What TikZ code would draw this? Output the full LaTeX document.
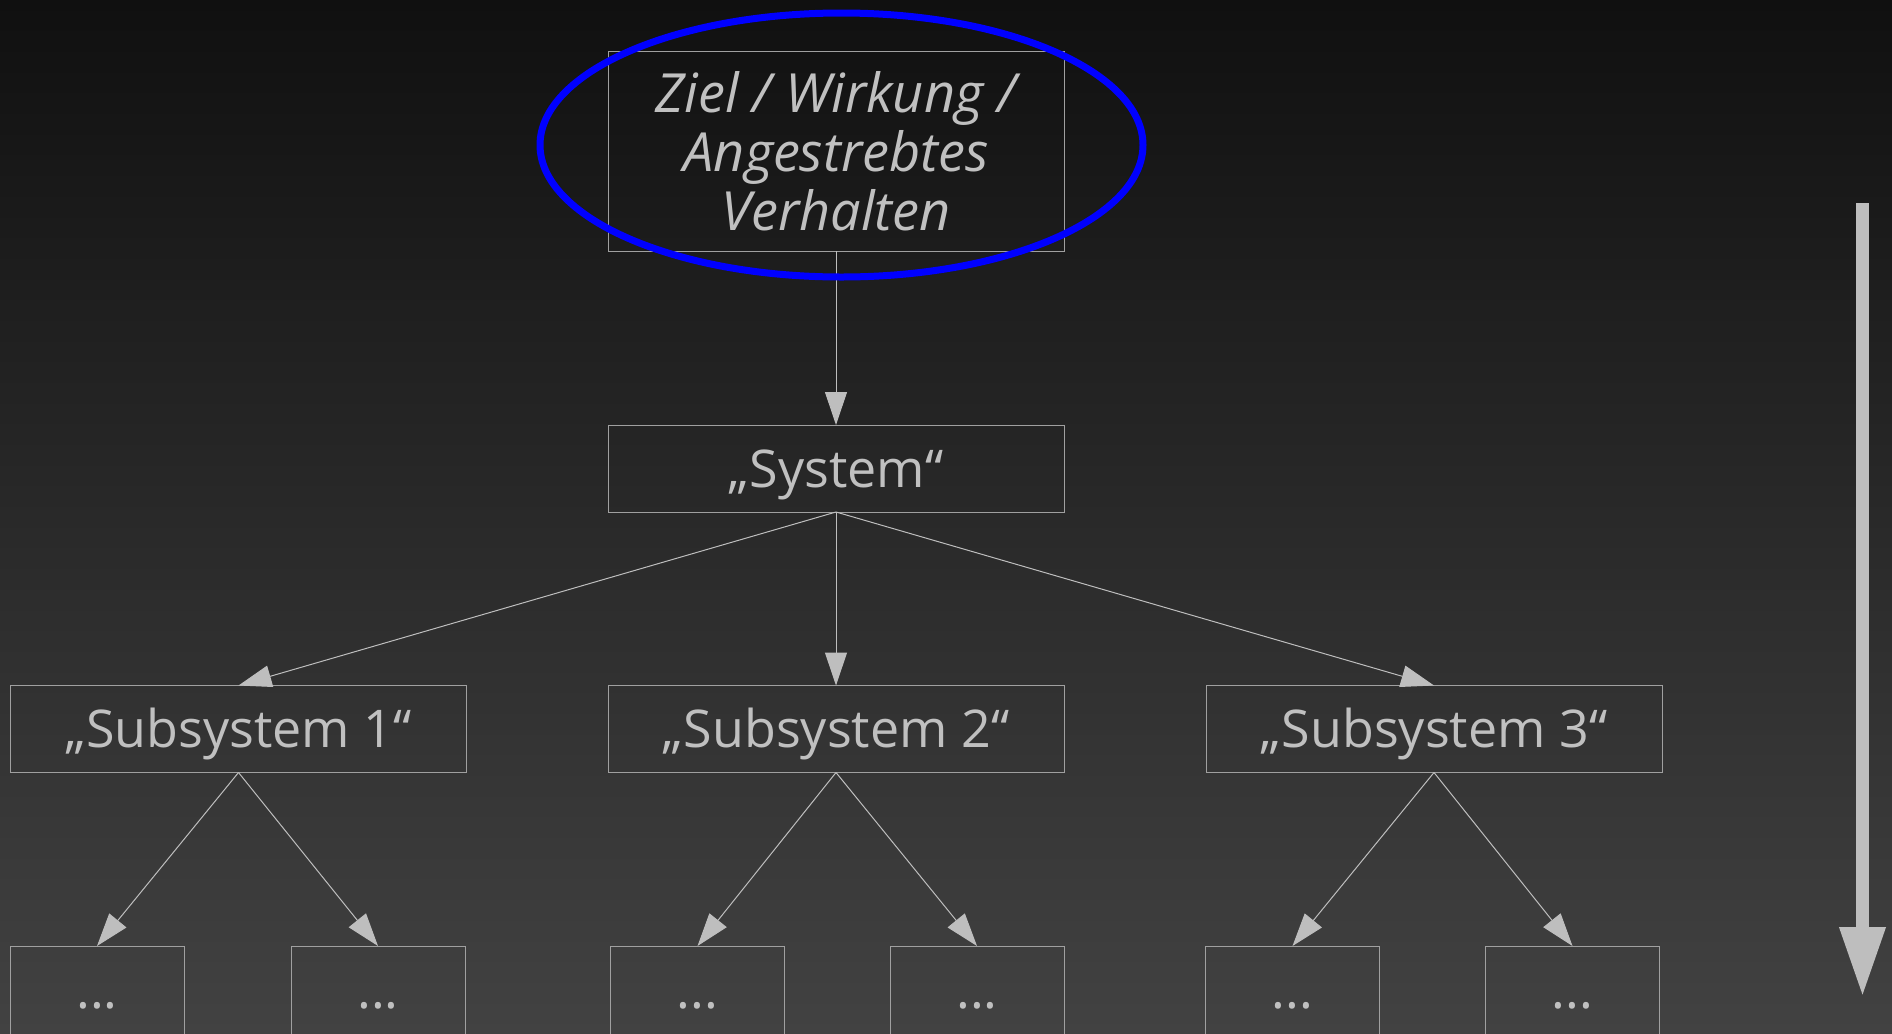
\documentclass[tikz,border=0pt]{standalone}
\usepackage{fontspec}
\setmainfont{Open Sans}
\usepackage{tikz}
\usetikzlibrary{arrows.meta}
\definecolor{bgtop}{RGB}{16,16,16}
\definecolor{bgbottom}{RGB}{66,66,66}
\definecolor{boxline}{RGB}{160,160,160}
\definecolor{textgray}{RGB}{192,192,192}
\definecolor{linkgray}{RGB}{190,190,190}
\newcommand{\boxfont}{\fontsize{26}{29.5}\selectfont}
\tikzstyle{level}=[draw=boxline, line width=0.5pt, inner sep=0, outer sep=0, text=textgray, font=\boxfont,
                   minimum width=228pt, minimum height=43.5pt, text height=18.5pt, text depth=0pt]
\tikzstyle{leaf}=[level, minimum width=87pt, minimum height=44pt]
\tikzstyle{goal}=[level, minimum height=100pt, text height=, text depth=, align=center,
                  font=\fontsize{27}{29.5}\selectfont\itshape]
\tikzstyle{link}=[draw=linkgray, line width=0.5pt, -{Triangle[length=16.5pt, width=11pt, fill=linkgray]}]
\tikzstyle{flow}=[draw=linkgray, line width=6.5pt, -{Triangle[length=35pt, width=21.5pt, fill=linkgray]}]

\begin{document}
\begin{tikzpicture}[x=0.5pt, y=-0.5pt]
    % background, fixes the size of the page
    \shade[top color=bgtop, bottom color=bgbottom] (0, 0) rectangle (1892, 1034);
    \useasboundingbox (0, 0) rectangle (1892, 1034);

    \node[goal]  (ziel)   at (836, 151) {Ziel / Wirkung /\\Angestrebtes\\Verhalten};
    \node[level] (system) at (836, 468.5) {„System“};

    \node[level] (subA) at (238.5, 729)  {„Subsystem 1“};
    \node[level] (subB) at (836, 729)    {„Subsystem 2“};
    \node[level] (subC) at (1434, 729)   {„Subsystem 3“};

    \node[leaf] (leafA1) at (97, 990)   {...};
    \node[leaf] (leafA2) at (378, 990)  {...};
    \node[leaf] (leafB1) at (697.5, 990) {...};
    \node[leaf] (leafB2) at (977, 990)  {...};
    \node[leaf] (leafC1) at (1292.5, 990) {...};
    \node[leaf] (leafC2) at (1572.5, 990) {...};

    \draw[link] (ziel) -- (system);
    \draw[link] (system.south) -- (subA.north);
    \draw[link] (system.south) -- (subB.north);
    \draw[link] (system.south) -- (subC.north);
    \draw[link] (subA.south) -- (leafA1.north);
    \draw[link] (subA.south) -- (leafA2.north);
    \draw[link] (subB.south) -- (leafB1.north);
    \draw[link] (subB.south) -- (leafB2.north);
    \draw[link] (subC.south) -- (leafC1.north);
    \draw[link] (subC.south) -- (leafC2.north);

    % highlight round the goal
    \draw[blue, line width=3.5pt] (841.5, 145) ellipse (301.5 and 132);

    % direction on the right
    \coordinate (flowtop) at (1862.5, 203);
    \coordinate (flowend) at (1862.5, 997);
    \draw[flow] (flowtop) -- (flowend);
\end{tikzpicture}
\end{document}
